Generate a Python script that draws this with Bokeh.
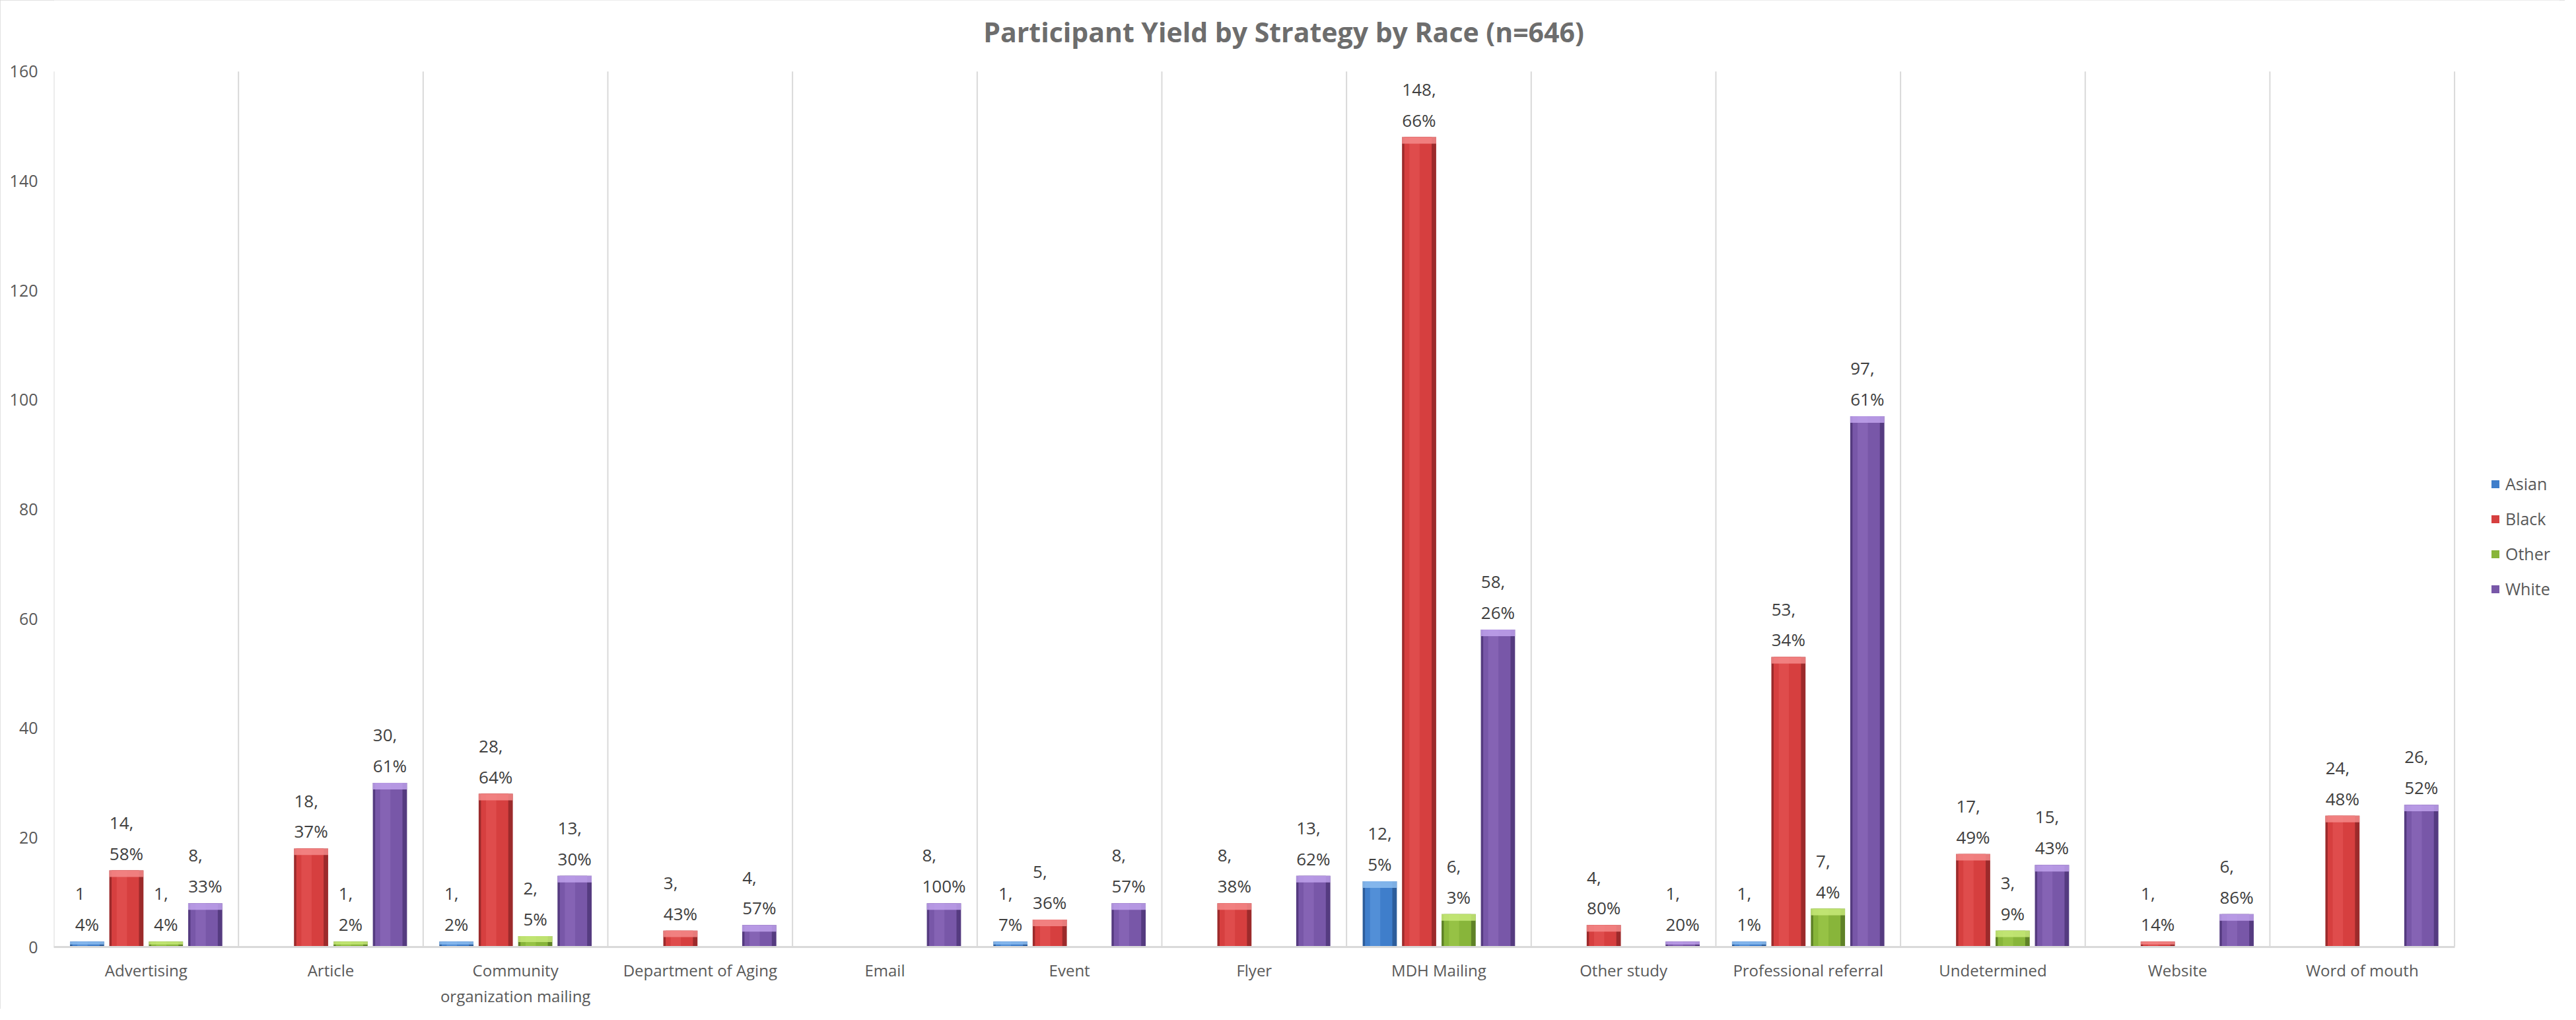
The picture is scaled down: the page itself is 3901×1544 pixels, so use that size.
from bokeh.plotting import figure
from bokeh.models import ColumnDataSource, LabelSet, Label, Legend, LegendItem, FixedTicker, Range1d
from bokeh.core.properties import value
from bokeh.embed import file_html
from bokeh.resources import INLINE

# ---- data ----
categories = ["Advertising", "Article", "Community\norganization mailing", "Department of Aging",
              "Email", "Event", "Flyer", "MDH Mailing", "Other study", "Professional referral",
              "Undetermined", "Website", "Word of mouth"]
series = ["Asian", "Black", "Other", "White"]
asian = [1, 0, 1, 0, 0, 1, 0, 12, 0, 1, 0, 0, 0]
asian_pct = [4, 0, 2, 0, 0, 7, 0, 5, 0, 1, 0, 0, 0]
black = [14, 18, 28, 3, 0, 5, 8, 148, 4, 53, 17, 1, 24]
black_pct = [58, 37, 64, 43, 0, 36, 38, 66, 80, 34, 49, 14, 48]
other = [1, 1, 2, 0, 0, 0, 0, 6, 0, 7, 3, 0, 0]
other_pct = [4, 2, 5, 0, 0, 0, 0, 3, 0, 4, 9, 0, 0]
white = [8, 30, 13, 4, 8, 8, 13, 58, 1, 97, 15, 6, 26]
white_pct = [33, 61, 30, 57, 100, 57, 62, 26, 20, 61, 43, 86, 52]
y_ticks = [0, 20, 40, 60, 80, 100, 120, 140, 160]
title = "Participant Yield by Strategy by Race (n=646)"

# ---- styles ----
FONT = "Open Sans"
offsets = [-0.32, -0.107, 0.107, 0.32]
palette = {
    "Asian": ("#2c5d9b", "#3f7ecb", "#6aa3e6", "#8dbdf0"),
    "Black": ("#9c2a2b", "#d63f3f", "#ea5e5e", "#f58a8a"),
    "Other": ("#5f8227", "#88b53a", "#a8d255", "#c8ea7a"),
    "White": ("#553b80", "#7857a8", "#9573c4", "#c0a2ec"),
}

W, H = 3884, 1527
N = len(categories)
YMAX = y_ticks[-1]
Y_TOP = 173.0        # frame extends above the axis top to hold the title
X_RIGHT = 13.57      # frame extends right of the last category to hold the legend
p = figure(width=W, height=H, x_range=Range1d(0, X_RIGHT), y_range=Range1d(0, Y_TOP),
           output_backend="svg", toolbar_location=None,
           min_border_left=81, min_border_right=8, min_border_top=0, min_border_bottom=92)
p.outline_line_color = None
p.background_fill_color = "white"
p.border_fill_color = "white"
p.styles = {"outline": "2px solid #d9d9d9", "outline-offset": "-2px"}

# title
p.add_layout(Label(x=6.66, y=167.3, text=title, text_align="center", text_baseline="middle",
                   text_font=FONT, text_font_size="41px", text_font_style="bold",
                   text_color="#6d6d6d"))

# axes
centers = [i + 0.5 for i in range(N)]
p.xaxis.ticker = FixedTicker(ticks=centers)
p.xaxis.bounds = (0, N)
p.xaxis.major_label_overrides = {c: cat for c, cat in zip(centers, categories)}
p.xaxis.axis_line_color = "#d9d9d9"
p.xaxis.axis_line_width = 3
p.xaxis.major_tick_line_color = None
p.xaxis.minor_tick_line_color = None
p.xaxis.major_label_text_font = FONT
p.xaxis.major_label_text_font_size = "24px"
p.xaxis.major_label_text_color = "#595959"
p.xaxis.major_label_standoff = 12
p.xaxis.major_label_text_line_height = 1.2

p.yaxis.ticker = FixedTicker(ticks=y_ticks)
p.yaxis.axis_line_color = None
p.yaxis.major_tick_line_color = None
p.yaxis.minor_tick_line_color = None
p.yaxis.major_label_text_font = FONT
p.yaxis.major_label_text_font_size = "25px"
p.yaxis.major_label_text_color = "#595959"
p.yaxis.major_label_standoff = 18

p.xgrid.grid_line_color = None
p.ygrid.grid_line_color = None

# category separators (vertical gridlines) spanning the value axis only
bounds_x = list(range(N + 1))
p.segment(x0=bounds_x, y0=[0] * len(bounds_x), x1=bounds_x, y1=[YMAX] * len(bounds_x),
          line_color="#d9d9d9", line_width=2)

data = {"Asian": (asian, asian_pct), "Black": (black, black_pct),
        "Other": (other, other_pct), "White": (white, white_pct)}

legend_items = []
BW = 0.185
for s, off in zip(series, offsets):
    vals, pcts = data[s]
    idx = [i for i, v in enumerate(vals) if v > 0]
    xs = [i + 0.5 + off for i in idx]
    tops = [vals[i] for i in idx]
    labels = []
    for i in idx:
        if s == "Asian" and i == 0:
            labels.append(f"{vals[i]}\n{pcts[i]}%")
        else:
            labels.append(f"{vals[i]},\n{pcts[i]}%")
    caps = [t - min(1.2, t * 0.55) for t in tops]
    dark, base, light, cap = palette[s]
    src = ColumnDataSource(dict(x=xs, top=tops, cap=caps, label=labels,
                                xm=[x - 0.006 for x in xs], xl=[x - 0.025 for x in xs]))
    p.vbar(x="x", top="top", bottom=0, width=BW, source=src, fill_color=dark, line_color=None)
    mid = p.vbar(x="xm", top="top", bottom=0, width=BW * 0.8, source=src, fill_color=base, line_color=None)
    p.vbar(x="xl", top="top", bottom=0, width=BW * 0.3, source=src, fill_color=light, fill_alpha=0.45, line_color=None)
    p.vbar(x="x", top="top", bottom="cap", width=BW, source=src, fill_color=cap, fill_alpha=0.85, line_color=None)
    ls = LabelSet(x="x", y="top", text="label", source=src, text_align="center", text_baseline="bottom",
                  y_offset=8, text_font=value(FONT), text_font_size="26px", text_color="#404040",
                  text_line_height=1.3)
    p.add_layout(ls)
    legend_items.append(LegendItem(label=s, renderers=[mid]))

legend = Legend(items=legend_items, location=(3690, 525), orientation="vertical",
                glyph_width=15, glyph_height=15, label_text_font=FONT, label_text_font_size="25px",
                label_text_color="#595959", spacing=19, label_height=30, padding=0, margin=0,
                border_line_color=None, background_fill_alpha=0, label_standoff=8)
p.add_layout(legend)

open("out.html", "w").write(file_html(p, INLINE))
